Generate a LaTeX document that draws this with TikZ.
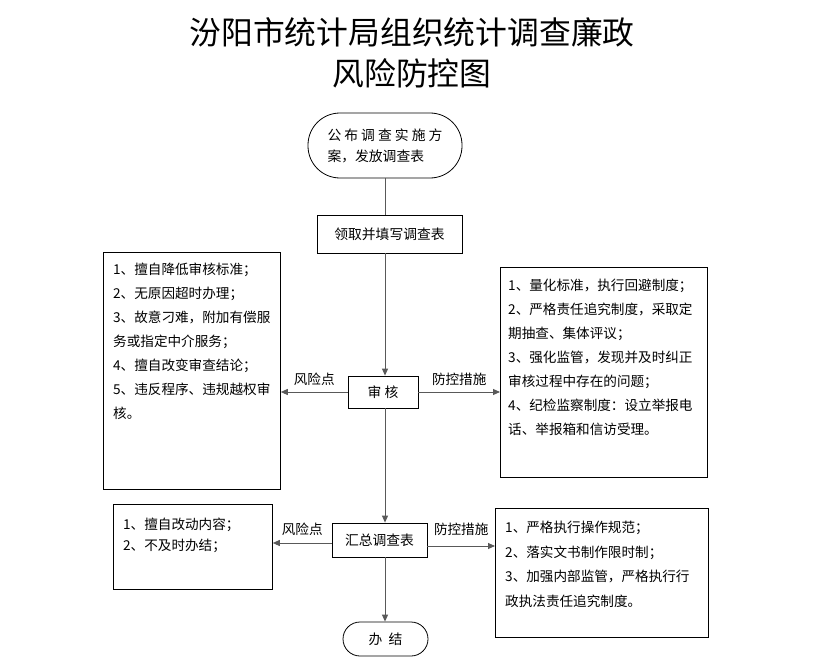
\documentclass[tikz,border=0pt]{standalone}
\usepackage{fontspec}
\setmainfont{Noto Sans CJK SC}
\usetikzlibrary{arrows.meta}
\tikzset{
  box/.style={draw=black, line width=0.8bp, rectangle, inner sep=0pt},
  pill/.style={draw=black, line width=0.8bp, rectangle, inner sep=0pt},
  txt/.style={inner sep=0pt, align=left, anchor=north west, font={\fontsize{13.6bp}{24bp}\selectfont}},
  lbl/.style={inner sep=0pt, font={\fontsize{13.6bp}{16bp}\selectfont}},
  conn/.style={draw=black!65, line width=0.9bp},
  arr/.style={conn, -{Triangle[length=7bp,width=6bp]}},
}
\begin{document}
\begin{tikzpicture}[x=1bp,y=-1bp]
\useasboundingbox (0,0) rectangle (823,672);
\fill[white] (0,0) rectangle (823,672);

\node[inner sep=0pt, align=center, font={\fontsize{31.8bp}{41bp}\selectfont}] (title) at (412,53)
  {汾阳市统计局组织统计调查廉政\\风险防控图};

\node[pill, rounded corners=32bp, minimum width=154bp, minimum height=65bp, align=left,
      font={\fontsize{13.8bp}{21bp}\selectfont}] (oval) at (385,145.5)
  {\makebox[115bp]{公\hfill 布\hfill 调\hfill 查\hfill 实\hfill 施\hfill 方}\\案，发放调查表};

\node[box, minimum width=145bp, minimum height=38bp, font={\fontsize{13.8bp}{16bp}\selectfont}] (lingqu) at (389.5,234) {领取并填写调查表};

\node[box, minimum width=70bp, minimum height=32bp, font={\fontsize{13.8bp}{16bp}\selectfont}] (shen) at (383,392) {审\ 核};

\node[box, anchor=north west, minimum width=177bp, minimum height=237bp] (L1) at (103,252) {};
\node[txt] (L1t) at (113,263) {1、擅自降低审核标准；\\2、无原因超时办理；\\3、故意刁难，附加有偿服\\务或指定中介服务；\\4、擅自改变审查结论；\\5、违反程序、违规越权审\\核。};

\node[box, anchor=north west, minimum width=207bp, minimum height=210bp] (R1) at (500,267) {};
\node[txt] (R1t) at (508,279) {1、量化标准，执行回避制度；\\2、严格责任追究制度，采取定\\期抽查、集体评议；\\3、强化监管，发现并及时纠正\\审核过程中存在的问题；\\4、纪检监察制度：设立举报电\\话、举报箱和信访受理。};

\node[box, minimum width=95bp, minimum height=34bp, font={\fontsize{13.8bp}{16bp}\selectfont}] (huizong) at (379.5,540) {汇总调查表};

\node[box, anchor=north west, minimum width=159bp, minimum height=85bp] (L2) at (113,504) {};
\node[txt, font={\fontsize{13.6bp}{21bp}\selectfont}] (L2t) at (123,518) {1、擅自改动内容；\\2、不及时办结；};

\node[box, anchor=north west, minimum width=213bp, minimum height=129bp] (R2) at (495,508) {};
\node[txt, font={\fontsize{13.6bp}{24.5bp}\selectfont}] (R2t) at (505,521) {1、严格执行操作规范；\\2、落实文书制作限时制；\\3、加强内部监管，严格执行行\\政执法责任追究制度。};

\node[pill, rounded corners=17bp, minimum width=85bp, minimum height=34bp, font={\fontsize{13.8bp}{16bp}\selectfont}] (banjie) at (385.5,639) {办\ \ 结};

\coordinate (vx) at (385,0);

\draw[conn] (oval.south -| vx) -- (lingqu.north -| vx);
\draw[arr] (lingqu.south -| vx) -- (shen.north -| vx);
\draw[arr] (shen.south -| vx) -- (huizong.north -| vx);
\draw[arr] (huizong.south -| vx) -- (banjie.north -| vx);

\draw[arr] (shen.west) -- (shen.west -| L1.east) node[lbl, midway, above=6bp] (lab1) {风险点};
\draw[arr] (shen.east) -- (shen.east -| R1.west) node[lbl, midway, above=6bp] (lab2) {防控措施};
\draw[arr] ([yshift=-3bp]huizong.west) -- ([yshift=-3bp]huizong.west -| L2.east) node[lbl, midway, above=7bp] (lab3) {风险点};
\draw[arr] ([yshift=-6bp]huizong.east) -- ([yshift=-6bp]huizong.east -| R2.west) node[lbl, midway, above=10bp] (lab4) {防控措施};
\end{tikzpicture}
\end{document}
